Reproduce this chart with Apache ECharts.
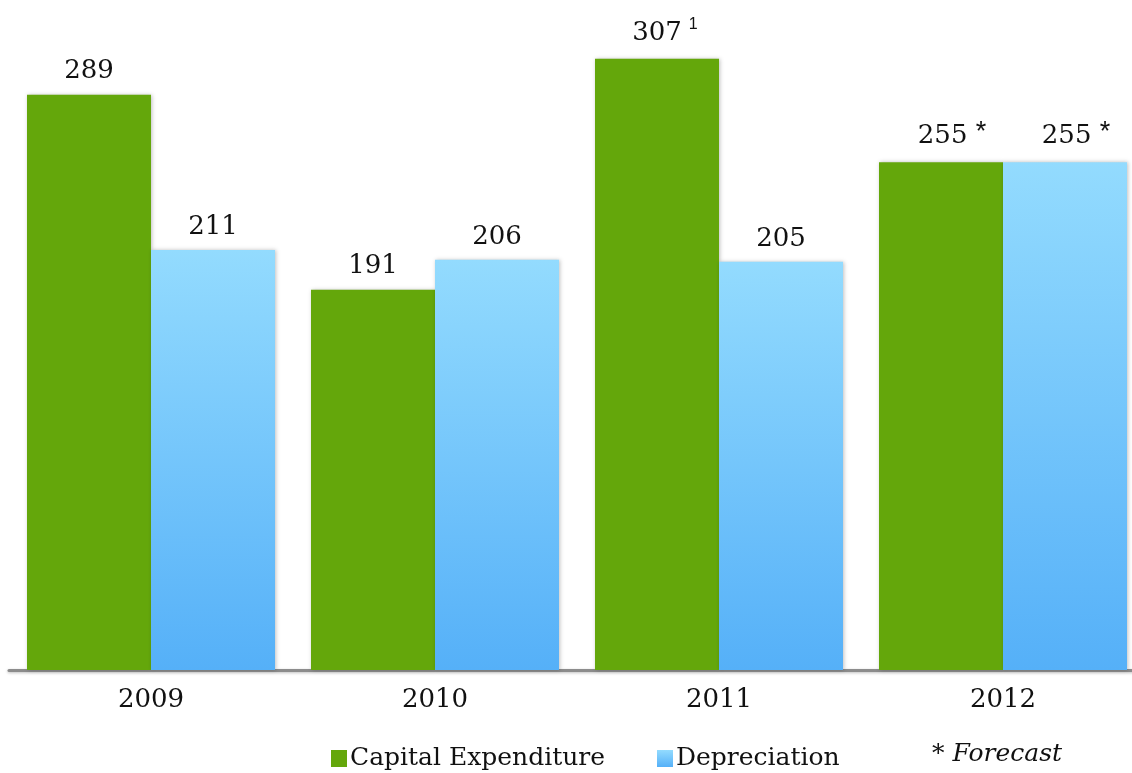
<!DOCTYPE html>
<html>
<head>
<meta charset="utf-8">
<script src="https://cdn.jsdelivr.net/npm/echarts@6/dist/echarts.min.js"></script>
<style>
html,body{margin:0;padding:0;background:#fff;overflow:hidden;}
#chart{width:1150px;height:773px;}
</style>
</head>
<body>
<div id="chart"></div>
<script>
const categories = ['2009', '2010', '2011', '2012'];
const capex = [289, 191, 307, 255];
const depreciation = [211, 206, 205, 255];
const capexNotes = ['', '', '1', '*'];
const depNotes = ['', '', '', '*'];
const seriesNames = ['Capital Expenditure', 'Depreciation'];
const footnote = '* Forecast';

const FONT = 'DejaVu Serif';
const green = '#64A70B';
const blueGrad = new echarts.graphic.LinearGradient(0, 0, 0, 1, [
  { offset: 0, color: '#93DBFE' },
  { offset: 1, color: '#55B0F8' }
]);

function makeLabel(notes) {
  return {
    show: true,
    position: 'top',
    distance: 10,
    formatter: function (p) {
      const n = notes[p.dataIndex];
      if (n === '1') return '{vs|' + p.value + '}{sup|1}';
      if (n === '*') return '{vst|' + p.value + ' }{star|*}';
      return '{v|' + p.value + '}';
    },
    rich: {
      v: { fontFamily: FONT, fontSize: 26, color: '#111' },
      vs: { fontFamily: FONT, fontSize: 26, color: '#111', padding: [0, 0, 0, 16] },
      vst: { fontFamily: FONT, fontSize: 26, color: '#111', padding: [0, 0, 0, 22] },
      sup: { fontFamily: 'Liberation Sans', fontSize: 16, color: '#111', verticalAlign: 'top', padding: [0, 0, 16, 7] },
      star: { fontFamily: 'Liberation Sans', fontSize: 27, color: '#111', padding: [0, 0, 6, 0] }
    }
  };
}

const chart = echarts.init(document.getElementById('chart'));
chart.setOption({
  animation: false,
  backgroundColor: '#ffffff',
  grid: { left: 9, top: 13, width: 1136, height: 657 },
  legend: [
    {
      data: [seriesNames[0]], left: 326, top: 741,
      icon: 'rect', itemWidth: 16, itemHeight: 17, itemGap: 0,
      textStyle: { fontFamily: FONT, fontSize: 25, color: '#111', padding: [0, 0, 0, -2] }
    },
    {
      data: [seriesNames[1]], left: 652, top: 741,
      icon: 'rect', itemWidth: 16, itemHeight: 17, itemGap: 0,
      textStyle: { fontFamily: FONT, fontSize: 25, color: '#111', padding: [0, 0, 0, -2] }
    }
  ],
  graphic: [{
    type: 'text', left: 932, top: 742,
    style: { text: footnote, font: 'italic 25px "DejaVu Serif"', fill: '#111' }
  }],
  xAxis: {
    type: 'category',
    data: categories,
    axisLine: { show: true, lineStyle: { color: '#8c8c8c', width: 3, shadowColor: 'rgba(0,0,0,0.25)', shadowBlur: 3, shadowOffsetY: 1 } },
    axisTick: { show: false },
    axisLabel: { fontFamily: FONT, fontSize: 26, color: '#111', margin: 17 }
  },
  yAxis: {
    type: 'value', min: 0, max: 330, show: false,
    splitLine: { show: false }
  },
  series: [
    {
      name: seriesNames[0], type: 'bar', data: capex,
      barWidth: 124, barGap: '0%',
      itemStyle: { color: green, shadowColor: 'rgba(0,0,0,0.25)', shadowBlur: 4, shadowOffsetX: 1 },
      label: makeLabel(capexNotes)
    },
    {
      name: seriesNames[1], type: 'bar', data: depreciation,
      barWidth: 124,
      itemStyle: { color: blueGrad, shadowColor: 'rgba(0,0,0,0.25)', shadowBlur: 4, shadowOffsetX: 1 },
      label: makeLabel(depNotes)
    }
  ]
});
</script>
</body>
</html>
